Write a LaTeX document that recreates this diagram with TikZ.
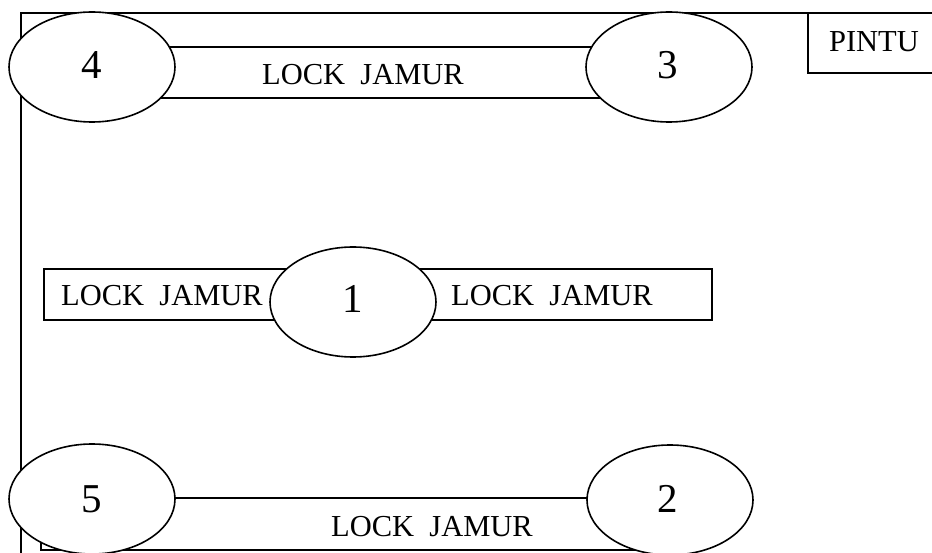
\documentclass[tikz,border=0pt]{standalone}
\usepackage{fontspec}
\setmainfont{Liberation Serif}
\usetikzlibrary{shapes.geometric}
\begin{document}
\begin{tikzpicture}[x=1pt,y=-1pt,
  line width=1.6pt,
  oval/.style={draw, ellipse, fill=white, minimum width=166pt, minimum height=110pt, inner sep=0pt},
  bar/.style={draw, rectangle, inner sep=0pt},
  lbl/.style={font=\fontsize{30.5}{32}\selectfont, anchor=base, inner sep=0pt},
  num/.style={font=\fontsize{41}{44}\selectfont, anchor=base, inner sep=0pt}]
\useasboundingbox (0,0) rectangle (932,553);
\clip (0,0) rectangle (932,553);
% outer room frame
\node[bar, minimum width=1000pt, minimum height=600pt, anchor=north west] (room) at (20,12) {};
% door
\node[bar, minimum width=140pt, minimum height=60pt, anchor=north west] (door) at (807,12) {};
\node[lbl] (doortxt) at (874,52) {PINTU};
% top rack
\node[bar, minimum width=560pt, minimum height=51pt, anchor=north west] (rtop) at (100,46) {};
\node[lbl] (ttop) at (363,85) {LOCK\ \ JAMUR};
\node[oval] (e4) at (92,67) {};
\node[num] (n4) at (92,79) {4};
\node[oval] (e3) at (669,67) {};
\node[num] (n3) at (668,79) {3};
% middle rack
\node[bar, minimum width=668pt, minimum height=51pt, anchor=north west] (rmid) at (43,268) {};
\node[lbl] (tml) at (162,306) {LOCK\ \ JAMUR};
\node[lbl] (tmr) at (552,306) {LOCK\ \ JAMUR};
\node[oval] (e1) at (353,302) {};
\node[num] (n1) at (353,313) {1};
% bottom rack
\node[bar, minimum width=600pt, minimum height=52pt, anchor=north west] (rbot) at (40,497) {};
\node[lbl] (tbot) at (432,536) {LOCK\ \ JAMUR};
\node[oval] (e5) at (92,499) {};
\node[num] (n5) at (92,512) {5};
\node[oval] (e2) at (670,500) {};
\node[num] (n2) at (668,512) {2};
\end{tikzpicture}
\end{document}
